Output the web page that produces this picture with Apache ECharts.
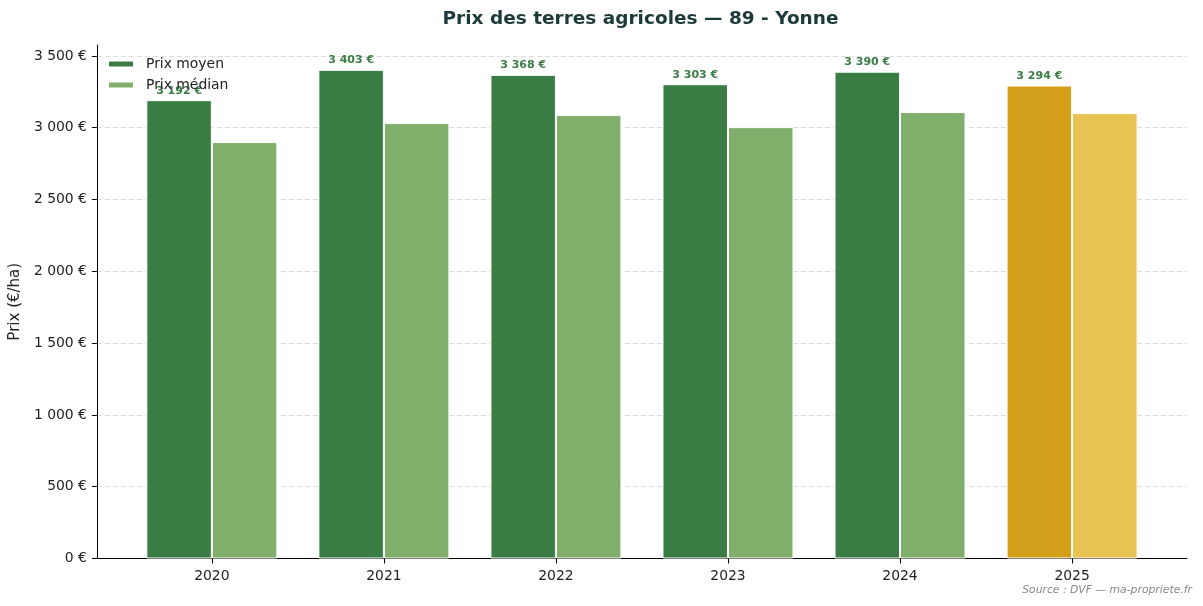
<!DOCTYPE html>
<html>
<head>
<meta charset="utf-8">
<script src="https://cdn.jsdelivr.net/npm/echarts@6/dist/echarts.min.js"></script>
<style>
  html, body { margin: 0; padding: 0; background: #fff; }
  #chart { width: 1203px; height: 606px; }
</style>
</head>
<body>
<div id="chart"></div>
<script>
const years = ['2020', '2021', '2022', '2023', '2024', '2025']
const prixMoyen = [3192, 3403, 3368, 3303, 3390, 3294]
const prixMedian = [2900, 3032, 3088, 3004, 3109, 3102]
const yTicks = [0, 500, 1000, 1500, 2000, 2500, 3000, 3500]

const FONT = 'DejaVu Sans'
const colMoyen = '#3a7d44'
const colMedian = '#7faf6a'
const colMoyenLast = '#d4a01c'
const colMedianLast = '#e8c252'

function fmtEuro(v) {
  return String(Math.round(v)).replace(/\B(?=(\d{3})+(?!\d))/g, ' ') + ' €'
}

// la dernière année est mise en avant
function toData(values, col, colLast) {
  return values.map((v, i) => ({
    value: [i, v],
    itemStyle: { color: i === values.length - 1 ? colLast : col }
  }))
}

const chart = echarts.init(document.getElementById('chart'))
const xIdx = years.map((y, i) => i)

chart.setOption({
  animation: false,
  backgroundColor: '#fff',
  textStyle: { fontFamily: FONT },
  legend: {
    orient: 'vertical',
    left: 107,
    top: 57,
    padding: 0,
    itemWidth: 26,
    itemHeight: 7,
    itemGap: 7,
    icon: 'rect',
    z: 10,
    textStyle: { fontFamily: FONT, fontSize: 13.9, color: '#222', padding: [0, 0, 0, 7] },
    data: [
      { name: 'Prix moyen', itemStyle: { color: colMoyen } },
      { name: 'Prix médian', itemStyle: { color: colMedian } }
    ]
  },
  grid: { left: 93, right: 16, top: 45, bottom: 47.5 },
  xAxis: {
    type: 'value',
    min: -0.668,
    max: 5.668,
    axisLine: { onZero: false, lineStyle: { color: '#000', width: 1 } },
    axisTick: { show: true, length: 5, customValues: xIdx, lineStyle: { color: '#000' } },
    axisLabel: {
      customValues: xIdx,
      formatter: v => years[Math.round(v)],
      fontFamily: FONT, fontSize: 13.9, color: '#222', margin: 11
    },
    splitLine: { show: false }
  },
  yAxis: {
    type: 'value',
    min: 0,
    max: 3576,
    name: 'Prix (€/ha)',
    nameLocation: 'middle',
    nameGap: 67,
    nameTextStyle: { fontFamily: FONT, fontSize: 15, color: '#222' },
    axisLine: { show: true, onZero: false, lineStyle: { color: '#000', width: 1 } },
    axisTick: { show: true, length: 5, customValues: yTicks, lineStyle: { color: '#000' } },
    axisLabel: {
      customValues: yTicks,
      formatter: v => fmtEuro(v),
      fontFamily: FONT, fontSize: 13.9, color: '#222', margin: 10
    },
    interval: 500,
    splitLine: { show: true, lineStyle: { color: '#dcdcdc', type: [5, 3], width: 1 } }
  },
  series: [
    {
      name: 'Prix moyen',
      type: 'bar',
      barWidth: 65.5,
      barGap: '0%',
      itemStyle: { color: colMoyen, borderColor: '#fff', borderWidth: 1 },
      label: {
        show: true,
        position: 'top',
        distance: 4,
        formatter: p => fmtEuro(p.value[1]),
        fontFamily: FONT, fontSize: 11, fontWeight: 'bold', color: colMoyen
      },
      data: toData(prixMoyen, colMoyen, colMoyenLast)
    },
    {
      name: 'Prix médian',
      type: 'bar',
      barWidth: 65.5,
      barGap: '0%',
      itemStyle: { color: colMedian, borderColor: '#fff', borderWidth: 1 },
      data: toData(prixMedian, colMedian, colMedianLast)
    }
  ],
  graphic: [
    {
      type: 'text',
      x: 640.5,
      y: 19,
      style: {
        text: 'Prix des terres agricoles — 89 - Yonne',
        align: 'center',
        verticalAlign: 'middle',
        fontFamily: FONT, fontSize: 18.5, fontWeight: 'bold', fill: '#1c3a3a'
      }
    },
    {
      type: 'text',
      x: 1192,
      y: 590,
      style: {
        text: 'Source : DVF — ma-propriete.fr',
        align: 'right',
        verticalAlign: 'middle',
        fontFamily: FONT, fontSize: 10.8, fontStyle: 'italic', fill: '#888'
      }
    }
  ]
})
</script>
</body>
</html>
